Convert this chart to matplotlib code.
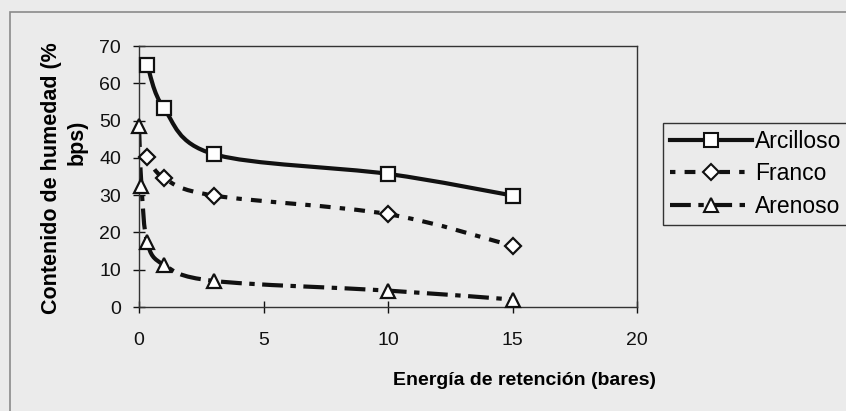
"""Contenido de humedad vs energía de retención para tres texturas de suelo."""
import matplotlib
matplotlib.use('Agg')
import matplotlib.pyplot as plt
import numpy as np
from matplotlib.path import Path
from matplotlib.patches import PathPatch, Rectangle
from matplotlib.lines import Line2D

plt.rcParams.update({
    'font.family': ['Liberation Sans', 'DejaVu Sans'],
    'font.size': 14,
})

# --- data ---
arc_x = [0.33, 1, 3, 10, 15]
arc_y = [65.0, 53.3, 41.0, 35.7, 29.9]
fra_x = [0.33, 1, 3, 10, 15]
fra_y = [40.3, 34.6, 29.9, 24.9, 16.4]
are_x = [0, 0.1, 0.33, 1, 3, 10, 15]
are_y = [48.5, 32.5, 17.3, 11.3, 7.0, 4.4, 2.0]

series_names = ['Arcilloso', 'Franco', 'Arenoso']

paper = '#ebebeb'
ink = '#111111'


def smooth_path(xs, ys):
    """Excel-like smoothed line: cubic Bezier segments (Catmull-Rom control points)."""
    pts = np.column_stack([xs, ys]).astype(float)
    n = len(pts)
    verts = [pts[0]]
    codes = [Path.MOVETO]
    for i in range(n - 1):
        p0 = pts[i - 1] if i > 0 else pts[i]
        p1, p2 = pts[i], pts[i + 1]
        p3 = pts[i + 2] if i + 2 < n else pts[i + 1]
        c1 = p1 + (p2 - p0) / 6.0
        c2 = p2 - (p3 - p1) / 6.0
        verts += [c1, c2, p2]
        codes += [Path.CURVE4] * 3
    return Path(verts, codes)


fig = plt.figure(figsize=(8.46, 4.11), dpi=100, facecolor=paper)
ax = fig.add_axes([139 / 846, 1 - 307 / 411, 498 / 846, 261 / 411])
ax.set_facecolor('none')

# scan frame
fig.patches.append(Rectangle((10 / 846, -0.1), 1.2, 1 - 12 / 411 + 0.1,
                             transform=fig.transFigure, fill=False,
                             edgecolor='#8a8a8a', linewidth=1.2))

styles = {
    'Arcilloso': dict(ls='-', marker='s', ms=9.5),
    'Franco': dict(ls=(0, (1.3, 2.2, 2.6, 2.2)), marker='D', ms=8.3),
    'Arenoso': dict(ls=(0, (5, 1.8, 1.3, 1.8)), marker='^', ms=9.5),
}

for name, xs, ys in zip(series_names, [arc_x, fra_x, are_x], [arc_y, fra_y, are_y]):
    st = styles[name]
    ax.add_patch(PathPatch(smooth_path(xs, ys), fill=False, edgecolor=ink,
                           linewidth=3, linestyle=st['ls'], capstyle='butt',
                           zorder=2))
    ax.plot(xs, ys, linestyle='none', marker=st['marker'], ms=st['ms'],
            mfc='white', mec=ink, mew=1.6, zorder=3, clip_on=False)

ax.set_xlim(0, 20)
ax.set_ylim(0, 70)
ax.set_xticks([0, 5, 10, 15, 20])
ax.set_yticks(np.arange(0, 71, 10))
ax.tick_params(direction='inout', length=8, width=1, colors=ink, labelsize=14)
ax.tick_params(axis='x', pad=14)
ax.tick_params(axis='y', pad=9)
for s in ax.spines.values():
    s.set_linewidth(1.0)
    s.set_color('#333333')

ax.set_xlabel('Energía de retención (bares)', fontsize=14, fontweight='bold')
ax.xaxis.set_label_coords(0.775, -0.28)
ax.xaxis.label.set_va('center')

fig.text(52 / 846, 1 - 178 / 411, 'Contenido de humedad (%', rotation=90,
         ha='center', va='center', fontsize=15.5, fontweight='bold')
fig.text(77 / 846, 1 - 142 / 411, 'bps)', rotation=90,
         ha='center', va='center', fontsize=15.5, fontweight='bold')

handles = [Line2D([], [], color=ink, lw=3, linestyle=styles[n]['ls'],
                  marker=styles[n]['marker'], ms=styles[n]['ms'],
                  mfc='white', mec=ink, mew=1.5) for n in series_names]
leg = fig.legend(handles, series_names, loc='upper left',
                 bbox_to_anchor=(663 / 846, 1 - 123 / 411), fontsize=16.5,
                 frameon=True, fancybox=False, edgecolor='#333333',
                 facecolor=paper, framealpha=1, handlelength=3.6,
                 handletextpad=0.1, labelspacing=0.42, borderpad=0.3,
                 borderaxespad=0)
leg.get_frame().set_linewidth(1.0)

fig.savefig('out.png', dpi=100, facecolor=paper)
plt.close(fig)
